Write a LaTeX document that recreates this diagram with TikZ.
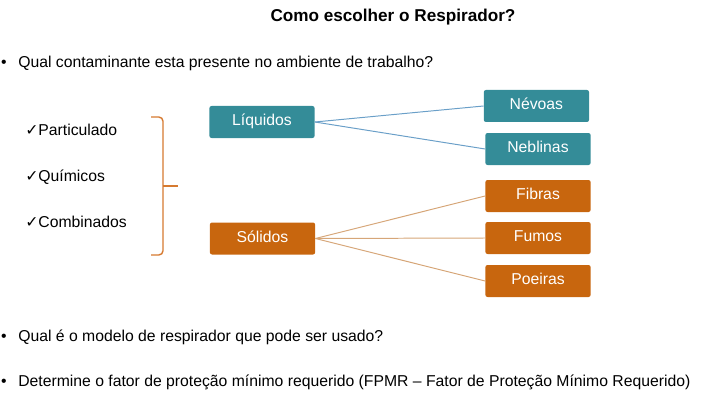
\documentclass[tikz,border=0pt]{standalone}
\usepackage{fontspec}
\setmainfont{Liberation Sans}
\newfontfamily\checkfont{DejaVu Sans}
\definecolor{tealbox}{HTML}{348C98}
\definecolor{orangebox}{HTML}{C8660E}
\definecolor{liqline}{HTML}{6A9FC8}
\definecolor{solline}{HTML}{D6A678}
\definecolor{bracecol}{HTML}{D67A30}
\begin{document}
\begin{tikzpicture}[
  txt/.style={font=\fontsize{11.2}{13}\selectfont, inner sep=0pt},
  box/.style={txt, text=white, minimum width=2.63cm, minimum height=0.8cm,
    text height=0.75em, text depth=0.2em, rounded corners=1.5pt},
  liq/.style={box, fill=tealbox},
  sol/.style={box, fill=orangebox},
  liqlink/.style={liqline, line width=0.7pt},
  sollink/.style={solline, line width=0.7pt},
  brace/.style={bracecol, line width=1pt, rounded corners=3pt}
]
\useasboundingbox (0,0) rectangle (18.075,10.125);
\node[font=\bfseries\fontsize{12.2}{14}\selectfont, inner sep=0pt, anchor=base] (titulo) at (9.825,9.575) {Como escolher o Respirador?};
% perguntas
\node[txt, anchor=base] (b1) at (0.1,8.425) {\textbullet};
\node[txt, anchor=base west] (q1) at (0.45,8.425) {Qual contaminante esta presente no ambiente de trabalho?};
\node[txt, anchor=base] (b2) at (0.1,1.6) {\textbullet};
\node[txt, anchor=base west] (q2) at (0.45,1.6) {Qual é o modelo de respirador que pode ser usado?};
\node[txt, anchor=base] (b3) at (0.1,0.46) {\textbullet};
\node[txt, anchor=base west] (q3) at (0.45,0.46) {Determine o fator de proteção mínimo requerido (FPMR – Fator de Proteção Mínimo Requerido)};
% tipos
\node[txt, anchor=base west] (particulado) at (0.625,6.735) {{\checkfont ✓}Particulado};
\node[txt, anchor=base west] (quimicos) at (0.625,5.585) {{\checkfont ✓}Químicos};
\node[txt, anchor=base west] (combinados) at (0.625,4.435) {{\checkfont ✓}Combinados};
\draw[brace] (3.775,7.2) -- (4.075,7.2) -- (4.075,3.75) -- (3.775,3.75);
\draw[brace] (4.075,5.475) -- (4.45,5.475);
% estados
\node[liq] (liquidos) at (6.55,7.075) {Líquidos};
\node[sol] (solidos) at (6.5625,4.1625) {Sólidos};
\node[liq] (nevoas) at (13.41,7.475) {Névoas};
\node[liq] (neblinas) at (13.45,6.4) {Neblinas};
\node[sol] (fibras) at (13.45,5.225) {Fibras};
\node[sol] (fumos) at (13.45,4.175) {Fumos};
\node[sol] (poeiras) at (13.45,3.1) {Poeiras};
\draw[liqlink] (liquidos.east) -- (nevoas.west);
\draw[liqlink] (liquidos.east) -- (neblinas.west);
\draw[sollink] (solidos.east) -- (fibras.west);
\draw[sollink] (solidos.east) -- (fumos.west);
\draw[sollink] (solidos.east) -- (poeiras.west);
\end{tikzpicture}
\end{document}
